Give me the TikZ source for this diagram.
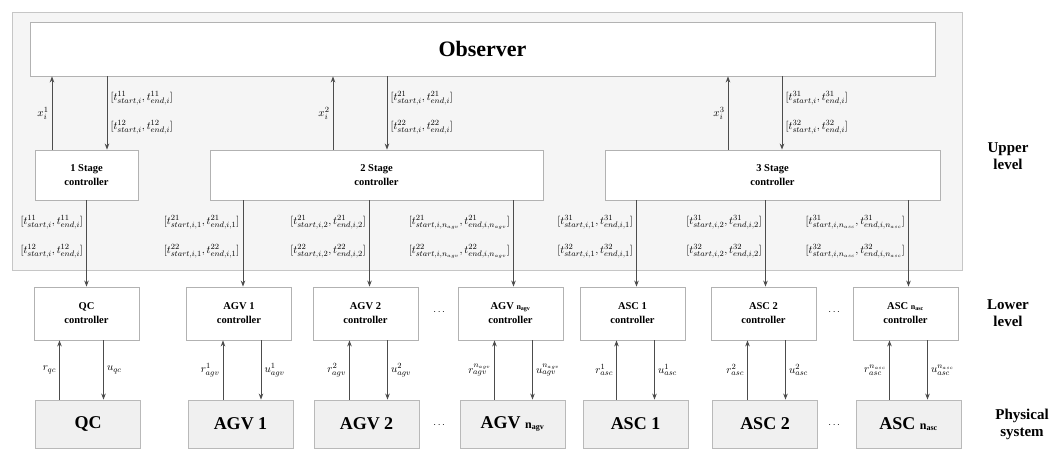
\documentclass[tikz,border=0pt]{standalone}
\usepackage{amsmath,amssymb}
\usepackage{fontspec}
\setmainfont{Liberation Serif}
\usepackage{tikz}
\usetikzlibrary{
  arrows.meta,
  positioning,
  calc
}

\begin{document}
\begin{tikzpicture}[
  x=1pt, y=-1pt,
  panel/.style={
    draw=gray!45, fill=gray!8, line width=0.8pt,
    minimum width=950pt, minimum height=258pt
  },
  obsbox/.style={
    draw=gray!60, fill=white, line width=0.8pt,
    minimum width=905pt, minimum height=54pt,
    font=\fontsize{22}{24}\selectfont\bfseries
  },
  stagebox/.style={
    draw=gray!60, fill=white, line width=0.8pt,
    minimum height=50pt, align=center,
    font=\fontsize{10.5}{14}\selectfont\bfseries
  },
  ctl/.style={
    draw=gray!60, fill=white, line width=0.8pt,
    minimum width=105pt, minimum height=53pt, align=center,
    font=\fontsize{10.5}{14}\selectfont\bfseries
  },
  plant/.style={
    draw=gray!55, fill=gray!12, line width=0.8pt,
    minimum width=105pt, minimum height=48pt,
    font=\fontsize{18}{20}\selectfont\bfseries
  },
  lvl/.style={align=center, font=\fontsize{15}{17}\selectfont\bfseries},
  lab/.style={font=\fontsize{11}{29}\selectfont, text=black, align=left, inner sep=3pt},
  arr/.style={-{Stealth[length=6pt,width=4.5pt]}, line width=1pt, black!70},
]
\useasboundingbox (0,0) rectangle (1053,449);

% Upper level
\node[panel] (upper) at (487,141) {};
\node[obsbox] (obs) at (482.5,49) {Observer};

\node[stagebox, minimum width=103pt] (st1) at (86.5,175) {1 Stage\\controller};
\node[stagebox, minimum width=333pt] (st2) at (376.5,175) {2 Stage\\controller};
\node[stagebox, minimum width=335pt] (st3) at (772.5,175) {3 Stage\\controller};

% Lower level
\node[ctl] (qcctl)   at (86.5,313.5)  {QC\\controller};
\node[ctl] (agv1ctl) at (239,313.5)   {AGV 1\\controller};
\node[ctl] (agv2ctl) at (365.5,313.5) {AGV 2\\controller};
\node[ctl] (agvnctl) at (510.5,313.5) {AGV {\fontsize{8}{8}\selectfont n\textsubscript{agv}}\\controller};
\node[ctl] (asc1ctl) at (632.5,313.5) {ASC 1\\controller};
\node[ctl] (asc2ctl) at (763.5,313.5) {ASC 2\\controller};
\node[ctl] (ascnctl) at (905.5,313.5) {ASC {\fontsize{8}{8}\selectfont n\textsubscript{asc}}\\controller};

% Physical system
\node[plant] (qc)   at (88,424)    {QC};
\node[plant] (agv1) at (240.5,424) {AGV 1};
\node[plant] (agv2) at (366.5,424) {AGV 2};
\node[plant] (agvn) at (512.5,424) {AGV {\fontsize{12}{12}\selectfont n\textsubscript{agv}}};
\node[plant] (asc1) at (635.5,424) {ASC 1};
\node[plant] (asc2) at (765,424)   {ASC 2};
\node[plant] (ascn) at (908.5,424) {ASC {\fontsize{12}{12}\selectfont n\textsubscript{asc}}};

\node (dotsa) at (440,312) {$\cdots$};
\node (dotsb) at (440,425) {$\cdots$};
\node (dotsc) at (835,312) {$\cdots$};
\node (dotsd) at (835,425) {$\cdots$};

\node[lvl] (uplvl)  at (1008,156) {Upper\\level};
\node[lvl] (lowlvl) at (1008,313) {Lower\\level};
\node[lvl] (phys)   at (1022,424) {Physical\\system};

% Observer <-> stage controllers
\draw[arr] ([xshift=-34.5pt]st1.north) -- ([xshift=-34.5pt]st1.north |- obs.south)
  node[midway, left, lab] {$x_i^1$};
\draw[arr] ([xshift=20.5pt]st1.north |- obs.south) -- ([xshift=20.5pt]st1.north)
  node[pos=0.5, right, lab] {$[t^{11}_{start,i},t^{11}_{end,i}]$\\$[t^{12}_{start,i},t^{12}_{end,i}]$};
\draw[arr] ([xshift=-43.5pt]st2.north) -- ([xshift=-43.5pt]st2.north |- obs.south)
  node[midway, left, lab] {$x_i^2$};
\draw[arr] ([xshift=10.5pt]st2.north |- obs.south) -- ([xshift=10.5pt]st2.north)
  node[pos=0.5, right, lab] {$[t^{21}_{start,i},t^{21}_{end,i}]$\\$[t^{22}_{start,i},t^{22}_{end,i}]$};
\draw[arr] ([xshift=-44.5pt]st3.north) -- ([xshift=-44.5pt]st3.north |- obs.south)
  node[midway, left, lab] {$x_i^3$};
\draw[arr] ([xshift=9.5pt]st3.north |- obs.south) -- ([xshift=9.5pt]st3.north)
  node[pos=0.5, right, lab] {$[t^{31}_{start,i},t^{31}_{end,i}]$\\$[t^{32}_{start,i},t^{32}_{end,i}]$};

% Stage controllers -> machine controllers
\draw[arr] (st1.south -| qcctl.north) -- (qcctl.north)
  node[pos=0.42, left, lab] {$[t^{11}_{start,i},t^{11}_{end,i}]$\\$[t^{12}_{start,i},t^{12}_{end,i}]$};
\draw[arr] ([xshift=4pt]st2.south -| agv1ctl.north) -- ([xshift=4pt]agv1ctl.north)
  node[pos=0.42, left, lab] {$[t^{21}_{start,i,1},t^{21}_{end,i,1}]$\\$[t^{22}_{start,i,1},t^{22}_{end,i,1}]$};
\draw[arr] ([xshift=4pt]st2.south -| agv2ctl.north) -- ([xshift=4pt]agv2ctl.north)
  node[pos=0.42, left, lab] {$[t^{21}_{start,i,2},t^{21}_{end,i,2}]$\\$[t^{22}_{start,i,2},t^{22}_{end,i,2}]$};
\draw[arr] ([xshift=3pt]st2.south -| agvnctl.north) -- ([xshift=3pt]agvnctl.north)
  node[pos=0.42, left, lab] {$[t^{21}_{start,i,n_{agv}},t^{21}_{end,i,n_{agv}}]$\\$[t^{22}_{start,i,n_{agv}},t^{22}_{end,i,n_{agv}}]$};
\draw[arr] ([xshift=4pt]st3.south -| asc1ctl.north) -- ([xshift=4pt]asc1ctl.north)
  node[pos=0.42, left, lab] {$[t^{31}_{start,i,1},t^{31}_{end,i,1}]$\\$[t^{32}_{start,i,1},t^{32}_{end,i,1}]$};
\draw[arr] ([xshift=2pt]st3.south -| asc2ctl.north) -- ([xshift=2pt]asc2ctl.north)
  node[pos=0.42, left, lab] {$[t^{31}_{start,i,2},t^{31}_{end,i,2}]$\\$[t^{32}_{start,i,2},t^{32}_{end,i,2}]$};
\draw[arr] ([xshift=3pt]st3.south -| ascnctl.north) -- ([xshift=3pt]ascnctl.north)
  node[pos=0.42, left, lab] {$[t^{31}_{start,i,n_{asc}},t^{31}_{end,i,n_{asc}}]$\\$[t^{32}_{start,i,n_{asc}},t^{32}_{end,i,n_{asc}}]$};

% Machine controllers <-> machines
\draw[arr] ([xshift=-27pt]qcctl.south |- qc.north) -- ([xshift=-27pt]qcctl.south)
  node[midway, left, lab] {$r_{qc}$};
\draw[arr] ([xshift=17pt]qcctl.south) -- ([xshift=17pt]qcctl.south |- qc.north)
  node[midway, right, lab] {$u_{qc}$};
\foreach \m/\k/\s in {agv1/1/agv, agv2/2/agv, agvn/n_{agv}/agv, asc1/1/asc, asc2/2/asc, ascn/n_{asc}/asc}{
  \draw[arr] ([xshift=-16pt]\m ctl.south |- \m.north) -- ([xshift=-16pt]\m ctl.south)
    node[midway, left, lab] {$r^{\k}_{\s}$};
  \draw[arr] ([xshift=22pt]\m ctl.south) -- ([xshift=22pt]\m ctl.south |- \m.north)
    node[midway, right, lab] {$u^{\k}_{\s}$};
}

\end{tikzpicture}
\end{document}
